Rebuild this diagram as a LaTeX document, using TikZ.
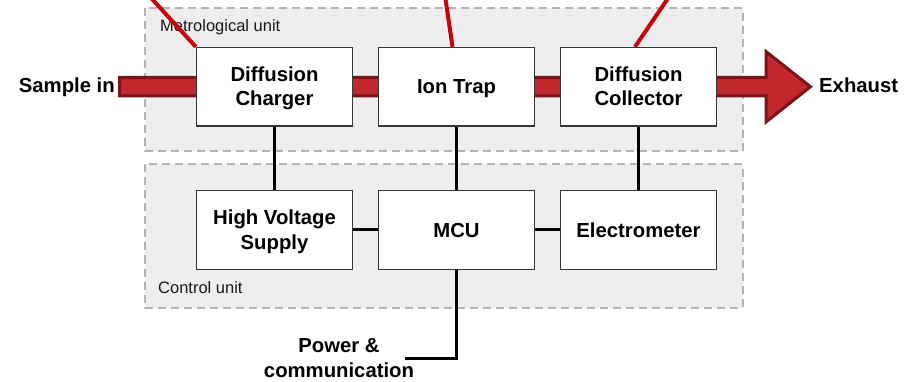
\documentclass[tikz,border=0pt]{standalone}
\usepackage{fontspec}
\setmainfont{Liberation Sans}
\definecolor{unitfill}{HTML}{EEEEEE}
\definecolor{unitgray}{HTML}{B3B3B3}
\definecolor{boxgray}{HTML}{363636}
\definecolor{pipeRed}{HTML}{C1272D}
\definecolor{pipeDark}{HTML}{7B1418}
\definecolor{lineRed}{HTML}{C8000A}
\newcommand\lstrut{\rule[-5.25pt]{0pt}{24.5pt}}
\pgfdeclarelayer{bg}
\pgfdeclarelayer{mid}
\pgfsetlayers{bg,mid,main}
\begin{document}
\begin{tikzpicture}[x=1pt,y=-1pt,
  unitbox/.style={draw=unitgray, line width=2pt, dash pattern=on 8pt off 5pt, fill=unitfill},
  blk/.style={draw=boxgray, line width=1.3pt, fill=white, minimum width=156pt, minimum height=78.5pt,
    inner sep=0pt, align=center, font=\bfseries\fontsize{20.3}{24.5}\selectfont},
  wire/.style={line width=3pt, draw=black, line join=miter},
  redline/.style={line width=4pt, draw=lineRed},
  lbl/.style={font=\bfseries\fontsize{20.3}{24.5}\selectfont, inner sep=0pt, align=center},
  unitlbl/.style={font=\fontsize{16.5}{20}\selectfont, inner sep=0pt, anchor=base west, text=black!90}
]
\useasboundingbox (0,0) rectangle (905,382);

% boxes
\node[blk] (dc) at (274.5,86.75) {\lstrut Diffusion\\\lstrut Charger};
\node[blk] (it) at (456.5,86.75) {\lstrut Ion Trap};
\node[blk] (dcol) at (638.5,86.75) {\lstrut Diffusion\\\lstrut Collector};
\node[blk] (hv) at (274.5,230) {\lstrut High Voltage\\\lstrut Supply};
\node[blk] (mcu) at (456.5,230) {\lstrut MCU};
\node[blk] (em) at (638.5,230) {\lstrut Electrometer};

% background and units
\begin{pgfonlayer}{bg}
\fill[white] (0,0) rectangle (905,382);
\draw[unitbox] (145,8.5) rectangle (742.5,151.5);
\draw[unitbox] (145,164.5) rectangle (742.5,307.5);
\node[unitlbl] (mlab) at (160,32) {Metrological unit};
\node[unitlbl] (clab) at (158,293.3) {Control unit};
\end{pgfonlayer}

% flow pipe and red lines
\begin{pgfonlayer}{mid}
\draw[line width=3pt, draw=pipeDark, fill=pipeRed, line join=miter]
  (119.5,77.5) -- (766,77.5) -- (766,51.5) -- (810.5,86.75) -- (766,122) -- (766,96) -- (119.5,96) -- cycle;
\begin{scope}
\clip (0,0) rectangle (905,382);
\coordinate (e1) at (143.8,-10);
\coordinate (e2) at (444.2,-10);
\coordinate (e3) at (673.6,-10);
\draw[redline] (dc.north west) -- (e1);
\draw[redline] ([xshift=-4pt]it.north) -- (e2);
\draw[redline] ([xshift=-3.5pt]dcol.north) -- (e3);
\end{scope}
\end{pgfonlayer}

% connectors
\draw[wire] (dc.south) -- (hv.north);
\draw[wire] (it.south) -- (mcu.north);
\draw[wire] (dcol.south) -- (em.north);
\draw[wire] (hv.east) -- (mcu.west);
\draw[wire] (mcu.east) -- (em.west);
\coordinate (pw) at (405,358);
\draw[wire] (mcu.south) |- (pw);

% labels
\node[lbl, anchor=base east] (sin) at (115,93) {Sample in};
\node[lbl, anchor=base west] (exh) at (819,93) {Exhaust};
\node[lbl] (pc) at (339,358) {\lstrut Power \&\\\lstrut communication};
\end{tikzpicture}
\end{document}
